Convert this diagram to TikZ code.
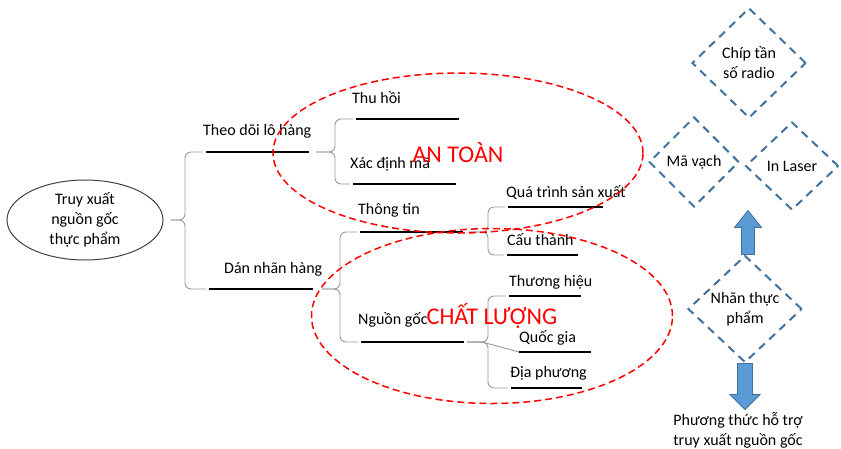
\documentclass[tikz,border=0pt]{standalone}
\usepackage{fontspec}
\setmainfont{Carlito}
\usepackage{tikz}
\usetikzlibrary{shapes.geometric}

\definecolor{diablue}{HTML}{41719C}
\definecolor{arrblue}{HTML}{5B9BD5}

\tikzset{
    bar/.style={line width=2.5pt},
    brk/.style={draw=black!40, line width=0.9pt, rounded corners=6pt},
    lbl/.style={anchor=base west, inner sep=0pt},
    zone/.style={ellipse, draw=red, line width=1.5pt, dash pattern=on 7pt off 4pt,
        text=red, font=\fontsize{24}{28}\selectfont},
    rhomb/.style={diamond, draw=diablue, line width=2pt, dash pattern=on 8pt off 6pt,
        inner sep=0pt, align=center},
    blk/.style={fill=arrblue, draw=diablue, line width=0.8pt}
}

\begin{document}
\begin{tikzpicture}[x=1pt, y=-1pt, font=\fontsize{16}{20}\selectfont]
    \useasboundingbox (0,0) rectangle (841,448);

    \node[draw=black!75, line width=1pt, ellipse, minimum width=156pt, minimum height=80pt,
        inner sep=0pt, align=center] (root) at (85,220) {Truy xuất\\nguồn gốc\\thực phẩm};

    % bars under the labels
    \foreach \n/\xa/\xb/\y in {theo/206/309/152, dan/209/313/289, thu/356/459/119,
        xac/353/456/184, thong/360/463/232, nguon/361/464/342, qua/508/603/207,
        cau/507/578/255, thuong/509/581/296, quoc/519/591/352, dia/511/582/388} {
        \coordinate (\n-a) at (\xa,\y);
        \coordinate (\n-b) at (\xb,\y);
        \draw[bar] (\n-a) -- (\n-b);
    }

    \foreach \n/\x/\y/\txt in {theo/203/135/Theo dõi lô hàng, dan/224/273/Dán nhãn hàng,
        thu/352/103/Thu hồi, xac/350/168/Xác định mã, thong/358/214/Thông tin,
        nguon/358/324/Nguồn gốc, qua/506/197/Quá trình sản xuất, cau/507/245/Cấu thành,
        thuong/509/286/Thương hiệu, quoc/519/342/Quốc gia, dia/510/377/Địa phương}
        \node[lbl] (\n-t) at (\x,\y) {\txt};

    % brackets
    \coordinate (root-tip) at ([xshift=7pt]root.east);
    \foreach \n/\d in {theo/7, dan/9, thong/6, nguon/3}
        \coordinate (\n-tip) at ([xshift=\d pt]\n-b);

    \foreach \n/\sx/\up/\dn in {root/185/theo/dan, theo/335/thu/xac, dan/340/thong/nguon,
        thong/488/qua/cau, nguon/488/thuong/dia} {
        \draw[brk] (\n-tip) -- (\n-tip -| \sx,0) |- ([xshift=-3pt]\up-a);
        \draw[brk] (\n-tip) -- (\n-tip -| \sx,0) |- ([xshift=-3pt]\dn-a);
    }
    \draw[brk] (nguon-tip) -- ++(15,0) -- (quoc-a);

    \node[zone, minimum width=370pt, minimum height=160pt] (safety) at (458,153) {AN TOÀN};
    \node[zone, minimum width=361pt, minimum height=175pt] (quality) at (492,316) {CHẤT LƯỢNG};

    % label carriers
    \node[rhomb, minimum width=114pt, minimum height=110pt] (chip) at (749,63) {Chíp tần\\số radio};
    \node[rhomb, minimum width=90pt, minimum height=90pt] (barcode) at (694,162) {Mã vạch};
    \node[rhomb, minimum width=93pt, minimum height=88pt] (laser) at (792,166) {In Laser};
    \node[rhomb, minimum width=114pt, minimum height=107pt] (nhan) at (745,309) {Nhãn thực\\phẩm};

    \node[align=center, inner sep=0pt] (method) at (738,430) {Phương thức hỗ trợ\\truy xuất nguồn gốc};

    \coordinate (up-a) at ([xshift=3pt]nhan.north);
    \coordinate (dn-a) at (nhan.south);
    \draw[blk] (up-a) ++(-6.5,0) -- ++(0,-27) -- ++(-7,0) -- ++(13.5,-17) -- ++(13.5,17)
        -- ++(-7,0) -- ++(0,27) -- cycle;
    \draw[blk] (dn-a) ++(-7.5,0) -- ++(0,31) -- ++(-7.5,0) -- ++(15,15) -- ++(15,-15)
        -- ++(-7.5,0) -- ++(0,-31) -- cycle;
\end{tikzpicture}
\end{document}
